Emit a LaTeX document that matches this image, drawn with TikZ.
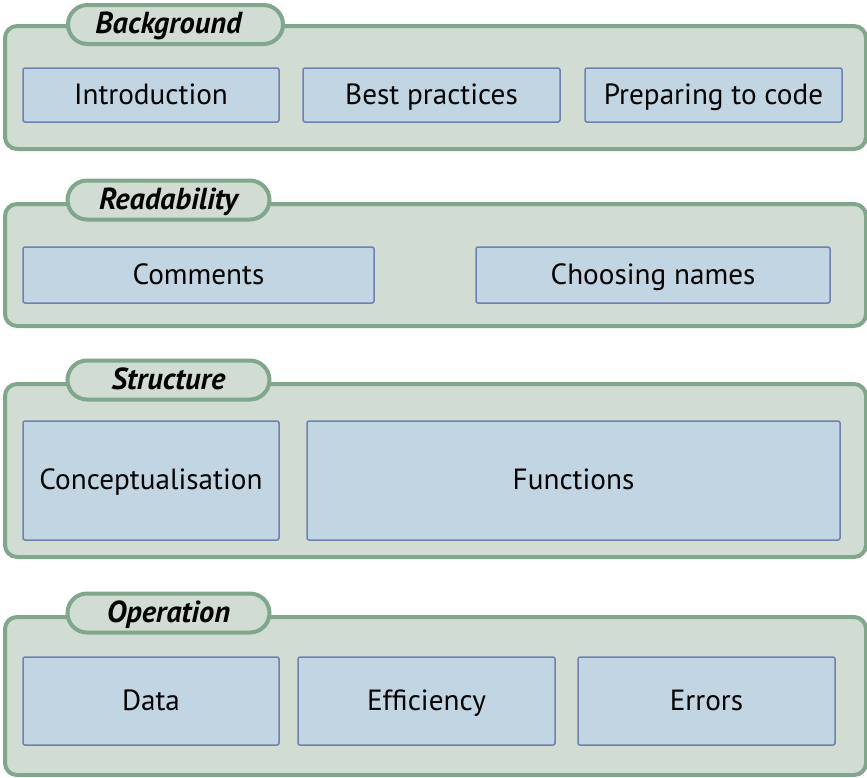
\documentclass[tikz,border=0pt]{standalone}
\usepackage{fontspec}
\setmainfont{PT Sans}
\usepackage{xcolor}
\usetikzlibrary{positioning}

\definecolor{groupfill}{HTML}{D1DCD3}
\definecolor{groupline}{HTML}{80A68C}
\definecolor{topicfill}{HTML}{C2D5E3}
\definecolor{topicline}{HTML}{7080B0}

\begin{document}
\begin{tikzpicture}[
    x=0.5pt, y=-0.5pt,
    group/.style={rectangle, draw=groupline, fill=groupfill, line width=2pt, rounded corners=6pt, anchor=north west, inner sep=0pt},
    tablabel/.style={inner sep=0pt, text height=1.1em, text depth=0.2em, font=\fontsize{15.2}{18}\selectfont\bfseries\itshape},
    tab/.style={tablabel, rectangle, draw=groupline, fill=groupfill, line width=2pt, rounded corners=9.75pt, minimum width=101pt, minimum height=19.5pt},
    topic/.style={rectangle, draw=topicline, fill=topicfill, line width=0.75pt, rounded corners=1pt, inner sep=0pt, text centered, text height=1.1em, text depth=0.2em, font=\fontsize{14.6}{17}\selectfont}
]
    \useasboundingbox (0,0) rectangle (867,777);

    % Background layer
    \node[group, minimum width=430.5pt, minimum height=61.5pt] (background) at (3,24) {};
    \node[tab, minimum width=107.5pt] (backgroundtab) at (175.5,24.5) {};
    \node[tablabel] (backgroundlabel) at (168.5,24.5) {Background};
    \node[topic, minimum width=128pt, minimum height=27pt] (intro) at (151,95) {Introduction};
    \node[topic, minimum width=128.5pt, minimum height=27pt] (practices) at (431.5,95) {Best practices};
    \node[topic, minimum width=128.5pt, minimum height=27pt] (preparing) at (713.5,95) {Preparing to code};

    % Readability layer
    \node[group, minimum width=430.5pt, minimum height=61pt] (readability) at (3,202) {};
    \node[tab] (readabilitytab) at (168.5,200) {Readability};
    \node[topic, minimum width=175.5pt, minimum height=28pt] (comments) at (198.5,275) {Comments};
    \node[topic, minimum width=177pt, minimum height=28pt] (names) at (653,275) {Choosing names};

    % Structure layer
    \node[group, minimum width=430.5pt, minimum height=86.5pt] (structure) at (3,382) {};
    \node[tab] (structuretab) at (168.5,380) {Structure};
    \node[topic, minimum width=128pt, minimum height=59.5pt] (concept) at (151,480.5) {Conceptualisation};
    \node[topic, minimum width=266.5pt, minimum height=59.5pt] (functions) at (573.5,480.5) {Functions};

    % Operation layer
    \node[group, minimum width=430.5pt, minimum height=79pt] (operation) at (3,615) {};
    \node[tab] (operationtab) at (168.5,613) {Operation};
    \node[topic, minimum width=128pt, minimum height=44pt] (data) at (151,701) {Data};
    \node[topic, minimum width=128.5pt, minimum height=44pt] (efficiency) at (426.5,701) {Efficiency};
    \node[topic, minimum width=128.5pt, minimum height=44pt] (errors) at (706.5,701) {Errors};
\end{tikzpicture}
\end{document}
